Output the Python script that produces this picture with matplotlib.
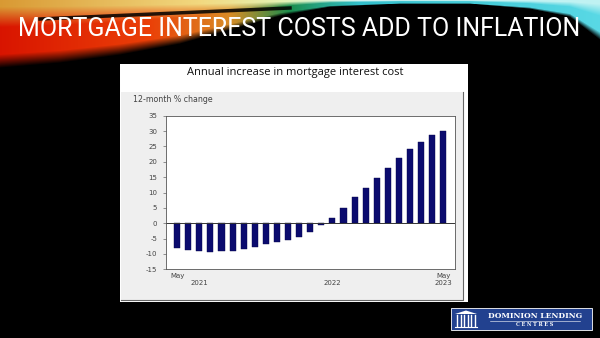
import numpy as np
import matplotlib
matplotlib.use("Agg")
import matplotlib.pyplot as plt
from matplotlib.patches import Rectangle, Polygon

# monthly 12-month % change, May 2021 .. May 2023
months = ["May", "Jun", "Jul", "Aug", "Sep", "Oct", "Nov", "Dec",
          "Jan", "Feb", "Mar", "Apr", "May", "Jun", "Jul", "Aug", "Sep", "Oct", "Nov", "Dec",
          "Jan", "Feb", "Mar", "Apr", "May"]
values = [-8.2, -8.6, -9.0, -9.3, -9.2, -8.9, -8.4, -7.6, -6.8, -6.0, -5.3, -4.4, -2.8,
          -0.5, 1.8, 4.9, 8.5, 11.6, 14.7, 18.0, 21.2, 24.0, 26.5, 28.7, 30.1]
yticks = [-15, -10, -5, 0, 5, 10, 15, 20, 25, 30, 35]
xtick_pos = [0, 2, 14, 24]
xtick_lab = ["May\n", "\n2021", "\n2022", "May\n2023"]

slide_title = "MORTGAGE INTEREST COSTS ADD TO INFLATION"
chart_title = "Annual increase in mortgage interest cost"
y_caption = "12-month % change"

W, H = 600, 338
fig = plt.figure(figsize=(W / 100, H / 100), dpi=100)
fig.patch.set_facecolor("black")

def px_axes(x, y, w, h):
    return fig.add_axes([x / W, 1 - (y + h) / H, w / W, h / H])

def fit_width(t, target):
    # scale a text's font size so it spans target pixels
    fig.canvas.draw()
    t.set_fontsize(t.get_fontsize() * target / t.get_window_extent().width)

# background: black slide with coloured swoosh at top
bg = px_axes(0, 0, W, H)
bg.set_xlim(0, W)
bg.set_ylim(H, 0)
bg.axis("off")

yy, xx = np.mgrid[0:H, 0:W] + 0.5
bx = [0, 60, 120, 180, 230, 280, 330, 400, 470, 530, 570, 600]
by = [68, 63, 55, 44, 30, 16, 7, 4, 4, 9, 17, 40]
b = np.interp(xx, bx, by)
f = yy / b

def ramp(stops):
    xs = [s[0] for s in stops]
    return np.stack([np.interp(xx, xs, [s[1][i] for s in stops]) for i in range(3)], axis=-1)

lower = ramp([(0, (0.85, 0.08, 0.0)), (150, (0.92, 0.25, 0.03)), (230, (0.85, 0.55, 0.15)),
              (290, (0.10, 0.55, 0.30)), (360, (0.20, 0.75, 0.80)), (600, (0.35, 0.85, 0.90))])
upper = ramp([(0, (0.85, 0.60, 0.20)), (200, (0.95, 0.85, 0.50)), (280, (0.90, 0.95, 0.70)),
              (360, (0.80, 0.95, 0.95)), (600, (0.75, 0.95, 0.95))])
s = np.clip((f - 0.1) / 0.3, 0, 1)[..., None]
col = upper * (1 - s) + lower * s
col *= (1 - np.clip((f - 0.8) / 0.2, 0, 1))[..., None]
img = np.zeros((H, W, 4))
img[..., :3] = np.clip(col, 0, 1)
img[..., 3] = (f < 1).astype(float)
bg.imshow(img, extent=(0, W, H, 0), interpolation="bilinear", zorder=0)
bg.plot([40, 290], [19, 8], color="black", lw=2.5, alpha=0.85, zorder=1)

t = bg.text(18, 28.5, slide_title, color="white", fontsize=19, family="Roboto",
            va="center", ha="left", zorder=3)
fit_width(t, 562)

# chart frame
bg.add_patch(Rectangle((120, 64), 348, 238, facecolor="white", edgecolor="none", zorder=2))
bg.add_patch(Rectangle((121, 92), 342, 208, facecolor="#efefef", edgecolor="none", zorder=2))
bg.plot([463, 463, 121], [92, 300, 300], color="#666666", lw=0.8, zorder=2)
ct = bg.text(295, 72.5, chart_title, fontsize=7, family="Open Sans", ha="center", va="center",
             color="#111111", zorder=3)
fit_width(ct, 216)
yc = bg.text(133, 99, y_caption, fontsize=5, family="DejaVu Sans", ha="left", va="center",
             color="#444444", zorder=3)
fit_width(yc, 80)

# logo
bg.add_patch(Rectangle((451, 308), 141, 22, facecolor="#22418f", edgecolor="white", lw=0.6, zorder=2))
bg.add_patch(Polygon([[455, 314], [466, 310.5], [477, 314]], closed=True, facecolor="white",
                     edgecolor="none", zorder=3))
for cx in np.linspace(457, 475, 6):
    bg.plot([cx, cx], [315, 326], color="white", lw=1.0, zorder=3)
bg.plot([455, 477], [326.5, 326.5], color="white", lw=0.8, zorder=3)
bg.text(535, 316, "DOMINION LENDING", fontsize=5.5, family="DejaVu Serif", weight="bold",
        color="white", ha="center", va="center", zorder=3)
bg.plot([490, 580], [320.5, 320.5], color="white", lw=0.4, zorder=3)
bg.text(535, 325, "C E N T R E S", fontsize=3.5, family="DejaVu Serif", weight="bold",
        color="white", ha="center", va="center", zorder=3)

# bar chart
ax = px_axes(165.5, 115.7, 289.5, 153.6)
x = np.arange(len(values))
ax.bar(x, values, width=0.55, color="#0b0b6e", edgecolor="#06064a", linewidth=0.3)
ax.axhline(0, color="#333333", lw=0.7)
ax.set_xlim(-1.05, len(values) + 0.05)
ax.set_ylim(-15, 35)
ax.set_yticks(yticks)
ax.set_yticklabels([str(v) for v in yticks])
ax.set_xticks(xtick_pos)
ax.set_xticklabels(xtick_lab)
ax.tick_params(axis="y", labelsize=5, labelcolor="#444444", length=2, width=0.4,
               color="#444444", pad=4)
ax.tick_params(axis="x", labelsize=5, labelcolor="#444444", length=0, pad=3)
for sp in ax.spines.values():
    sp.set_linewidth(0.6)
    sp.set_color("#555555")
ax.set_facecolor("white")

fig.savefig("out.png", dpi=100, facecolor="black")
